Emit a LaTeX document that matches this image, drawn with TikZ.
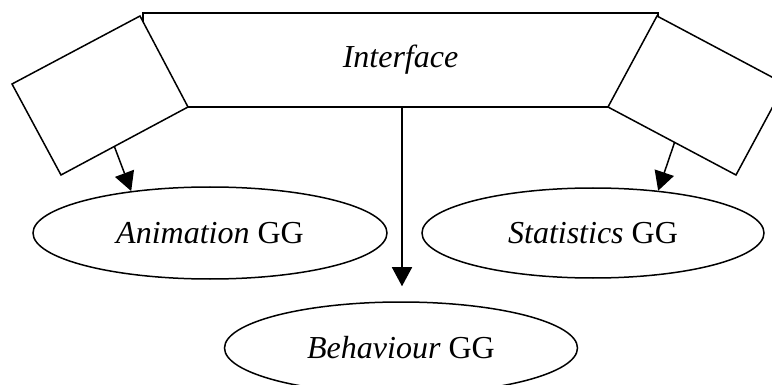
\documentclass[tikz,border=0pt]{standalone}
\usepackage{fontspec}
\setmainfont{Liberation Serif}
\usetikzlibrary{shapes.geometric,arrows.meta,calc}
\begin{document}
\begin{tikzpicture}[x=1pt,y=-1pt,
  line width=1.5pt,
  every node/.style={font=\fontsize{32}{38}\selectfont},
  gg/.style={draw,ellipse,inner sep=0pt,minimum width=354pt,minimum height=92pt},
  sidebox/.style={draw,fill=white,line join=miter},
  conn/.style={-{Triangle[width=20pt,length=19pt]}}]
\useasboundingbox (0,0) rectangle (772,385);
% interface
\node[draw,rectangle,inner sep=0pt,minimum width=515pt,minimum height=94pt] (iface) at (400.5,60) {\textit{Interface}};
% side boxes
\coordinate (la) at (140,16);
\coordinate (lb) at (188,107);
\coordinate (lc) at (61,175);
\coordinate (ld) at (12,84);
\coordinate (ra) at (657,16);
\coordinate (rb) at (608,107);
\coordinate (rc) at (736,175);
\coordinate (rd) at (785,84);
\draw[sidebox] (la) -- (lb) -- (lc) -- (ld) -- cycle;
\draw[sidebox] (ra) -- (rb) -- (rc) -- (rd) -- cycle;
% ellipses
\node[gg] (anim) at (210,233) {\textit{Animation} GG};
\node[gg,minimum width=342pt,minimum height=90pt] (stat) at (593,233) {\textit{Statistics} GG};
\node[gg,minimum width=353pt] (behav) at (401,348) {\textit{Behaviour} GG};
% connectors
\coordinate (lout) at ($(lc)!0.42!(lb)$);
\coordinate (rout) at ($(rb)!0.52!(rc)$);
\draw[conn] (lout) -- (anim.152);
\draw[conn] (rout) -- (stat.33);
\draw[conn,shorten >=15pt] ($(iface.south)+(1.5,0)$) -- ($(behav.north)+(1,0)$);
\end{tikzpicture}
\end{document}
